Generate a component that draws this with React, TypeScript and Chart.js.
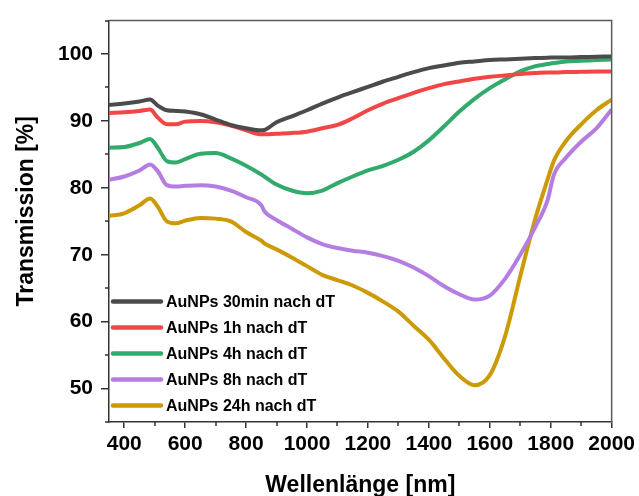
import React, { useEffect, useRef } from "react";
import { Chart, registerables } from "chart.js";

Chart.register(...registerables);

// Wavelength grid (nm)
const wavelengths = [
  350, 400, 450, 485, 510, 540, 570, 600, 650, 700, 750, 800, 850, 860, 900, 950,
  1000, 1050, 1100, 1150, 1200, 1250, 1300, 1350, 1400, 1450, 1500, 1550, 1600,
  1650, 1700, 1750, 1790, 1810, 1850, 1900, 1950, 2000,
];

// Transmission (%) per sample
const t30min = [
  92.4, 92.6, 92.9, 93.2, 92.3, 91.6, 91.5, 91.4, 91.0, 90.2, 89.4, 88.9, 88.6, 88.65, 89.8, 90.7,
  91.6, 92.6, 93.5, 94.3, 95.1, 95.9, 96.6, 97.3, 97.9, 98.3, 98.7, 98.9, 99.1,
  99.2, 99.3, 99.4, 99.45, 99.5, 99.5, 99.55, 99.6, 99.65,
];
const t1h = [
  91.2, 91.3, 91.5, 91.7, 90.5, 89.5, 89.5, 89.9, 90.0, 89.8, 89.3, 88.6, 88.0, 88.0, 88.1, 88.2,
  88.4, 88.9, 89.4, 90.4, 91.6, 92.6, 93.4, 94.2, 94.9, 95.5, 95.9, 96.3, 96.6,
  96.8, 97.0, 97.15, 97.25, 97.25, 97.3, 97.35, 97.4, 97.4,
];
const t4h = [
  86.0, 86.1, 86.7, 87.3, 86.0, 84.0, 83.8, 84.3, 85.1, 85.2, 84.4, 83.3, 82.0, 81.7, 80.5, 79.6,
  79.2, 79.6, 80.7, 81.7, 82.6, 83.3, 84.2, 85.4, 87.1, 89.2, 91.4, 93.3, 94.9,
  96.2, 97.4, 98.2, 98.5, 98.65, 98.9, 99.0, 99.1, 99.2,
];
const t8h = [
  81.2, 81.7, 82.6, 83.5, 82.5, 80.4, 80.2, 80.3, 80.4, 80.2, 79.6, 78.6, 77.4, 76.5, 75.2, 73.9,
  72.6, 71.6, 71.0, 70.6, 70.3, 69.8, 69.1, 68.1, 66.8, 65.3, 64.1, 63.3, 63.9,
  66.4, 70.0, 74.2, 78.2, 81.9, 84.5, 86.9, 88.9, 91.7,
];
const t24h = [
  75.8, 76.2, 77.4, 78.4, 77.2, 75.0, 74.7, 75.1, 75.5, 75.4, 75.0, 73.4, 72.1, 71.7, 70.8, 69.6,
  68.3, 67.0, 66.2, 65.4, 64.3, 63.0, 61.5, 59.4, 57.3, 54.5, 51.9, 50.5, 52.0,
  57.8, 66.8, 75.5, 81.3, 84.0, 87.0, 89.5, 91.6, 93.2,
];

const seriesLabels = [
  "AuNPs 30min nach dT",
  "AuNPs 1h nach dT",
  "AuNPs 4h nach dT",
  "AuNPs 8h nach dT",
  "AuNPs 24h nach dT",
];
const seriesValues = [t30min, t1h, t4h, t8h, t24h];
const seriesColors = ["#4b4b4b", "#f04646", "#31aa6b", "#b47de2", "#cc9a04"];

const xTicks = [400, 600, 800, 1000, 1200, 1400, 1600, 1800, 2000];
const xMinorTicks = [500, 700, 900, 1100, 1300, 1500, 1700, 1900];
const yTicks = [50, 60, 70, 80, 90, 100];
const yMinorTicks = [45, 55, 65, 75, 85, 95, 105];

const xTitle = "Wellenlänge [nm]";
const yTitle = "Transmission [%]";

const FONT = "'Liberation Sans', Arial, sans-serif";
const AXIS_COLOR = "#333333";

const decorPlugin = {
  id: "decor",
  afterDraw(chart: any) {
    const { ctx, chartArea } = chart;
    const xs = chart.scales.x;
    const ys = chart.scales.y;
    ctx.save();

    // top and right frame
    ctx.strokeStyle = "#5a5a5a";
    ctx.lineWidth = 1.5;
    ctx.beginPath();
    ctx.moveTo(chartArea.left, chartArea.top);
    ctx.lineTo(chartArea.right, chartArea.top);
    ctx.lineTo(chartArea.right, chartArea.bottom);
    ctx.stroke();

    // minor ticks
    ctx.strokeStyle = AXIS_COLOR;
    ctx.lineWidth = 1.5;
    ctx.beginPath();
    xMinorTicks.forEach((v) => {
      const px = Math.round(xs.getPixelForValue(v));
      ctx.moveTo(px, chartArea.bottom);
      ctx.lineTo(px, chartArea.bottom + 4);
    });
    yMinorTicks.forEach((v) => {
      const py = Math.round(ys.getPixelForValue(v));
      ctx.moveTo(chartArea.left, py);
      ctx.lineTo(chartArea.left - 4, py);
    });
    ctx.stroke();

    // axis titles
    ctx.fillStyle = "#000";
    ctx.font = `bold 23px ${FONT}`;
    ctx.textAlign = "center";
    ctx.textBaseline = "alphabetic";
    ctx.fillText(xTitle, (chartArea.left + chartArea.right) / 2, 492);
    ctx.save();
    ctx.translate(33, (chartArea.top + chartArea.bottom) / 2 - 10);
    ctx.rotate(-Math.PI / 2);
    ctx.fillText(yTitle, 0, 0);
    ctx.restore();

    // legend inside the plot, lower left
    const datasets = chart.data.datasets;
    const lx = chartArea.left + 2;
    const ly = chartArea.bottom - 120.5;
    ctx.font = `bold 16px ${FONT}`;
    ctx.textAlign = "left";
    ctx.textBaseline = "middle";
    datasets.forEach((ds: any, i: number) => {
      const y = ly + i * 26;
      ctx.strokeStyle = ds.borderColor;
      ctx.lineWidth = 4.5;
      ctx.lineCap = "round";
      ctx.beginPath();
      ctx.moveTo(lx + 2, y);
      ctx.lineTo(lx + 50, y);
      ctx.stroke();
      ctx.fillStyle = "#000";
      ctx.fillText(ds.label, lx + 55, y + 1);
    });
    ctx.restore();
  },
};

export default function App() {
  const canvasRef = useRef<HTMLCanvasElement | null>(null);

  useEffect(() => {
    if (!canvasRef.current) return;
    const chart = new Chart(canvasRef.current, {
      type: "line",
      data: {
        datasets: seriesValues.map((vals, i) => ({
          label: seriesLabels[i],
          data: wavelengths.map((w, j) => ({ x: w, y: vals[j] })),
          borderColor: seriesColors[i],
          backgroundColor: seriesColors[i],
          borderWidth: 4,
          pointRadius: 0,
          cubicInterpolationMode: "monotone" as const,
          fill: false,
        })),
      },
      options: {
        animation: false,
        responsive: true,
        maintainAspectRatio: false,
        layout: { padding: { left: 0, right: 26, top: 15, bottom: 0 } },
        plugins: {
          legend: { display: false },
          tooltip: { enabled: false },
        },
        scales: {
          x: {
            type: "linear",
            min: 350,
            max: 2000,
            afterBuildTicks: (scale: any) => {
              scale.ticks = xTicks.map((v) => ({ value: v }));
            },
            afterFit: (scale: any) => {
              scale.height = 74;
            },
            grid: {
              display: true,
              drawOnChartArea: false,
              drawTicks: true,
              tickLength: 6,
              tickWidth: 1.5,
              lineWidth: 1.5,
              color: AXIS_COLOR,
              tickColor: AXIS_COLOR,
            },
            border: { display: true, color: AXIS_COLOR, width: 1.5 },
            ticks: {
              color: "#000",
              font: { family: FONT, size: 21, weight: "bold" },
              padding: 4,
              maxRotation: 0,
              autoSkip: false,
              callback: (v: any) => String(v),
            },
          },
          y: {
            type: "linear",
            min: 45,
            max: 105,
            afterBuildTicks: (scale: any) => {
              scale.ticks = yTicks.map((v) => ({ value: v }));
            },
            afterFit: (scale: any) => {
              scale.width = 109;
            },
            grid: {
              display: true,
              drawOnChartArea: false,
              drawTicks: true,
              tickLength: 8,
              tickWidth: 1.5,
              lineWidth: 1.5,
              color: AXIS_COLOR,
              tickColor: AXIS_COLOR,
            },
            border: { display: true, color: AXIS_COLOR, width: 1.5 },
            ticks: {
              color: "#000",
              font: { family: FONT, size: 21, weight: "bold" },
              padding: 8,
              autoSkip: false,
              callback: (v: any) => String(v),
            },
          },
        },
      },
      plugins: [decorPlugin],
    });
    return () => chart.destroy();
  }, []);

  return (
    <div style={{ position: "absolute", left: 0, top: 0, width: 639, height: 496, background: "#fff" }}>
      <canvas ref={canvasRef} />
    </div>
  );
}
